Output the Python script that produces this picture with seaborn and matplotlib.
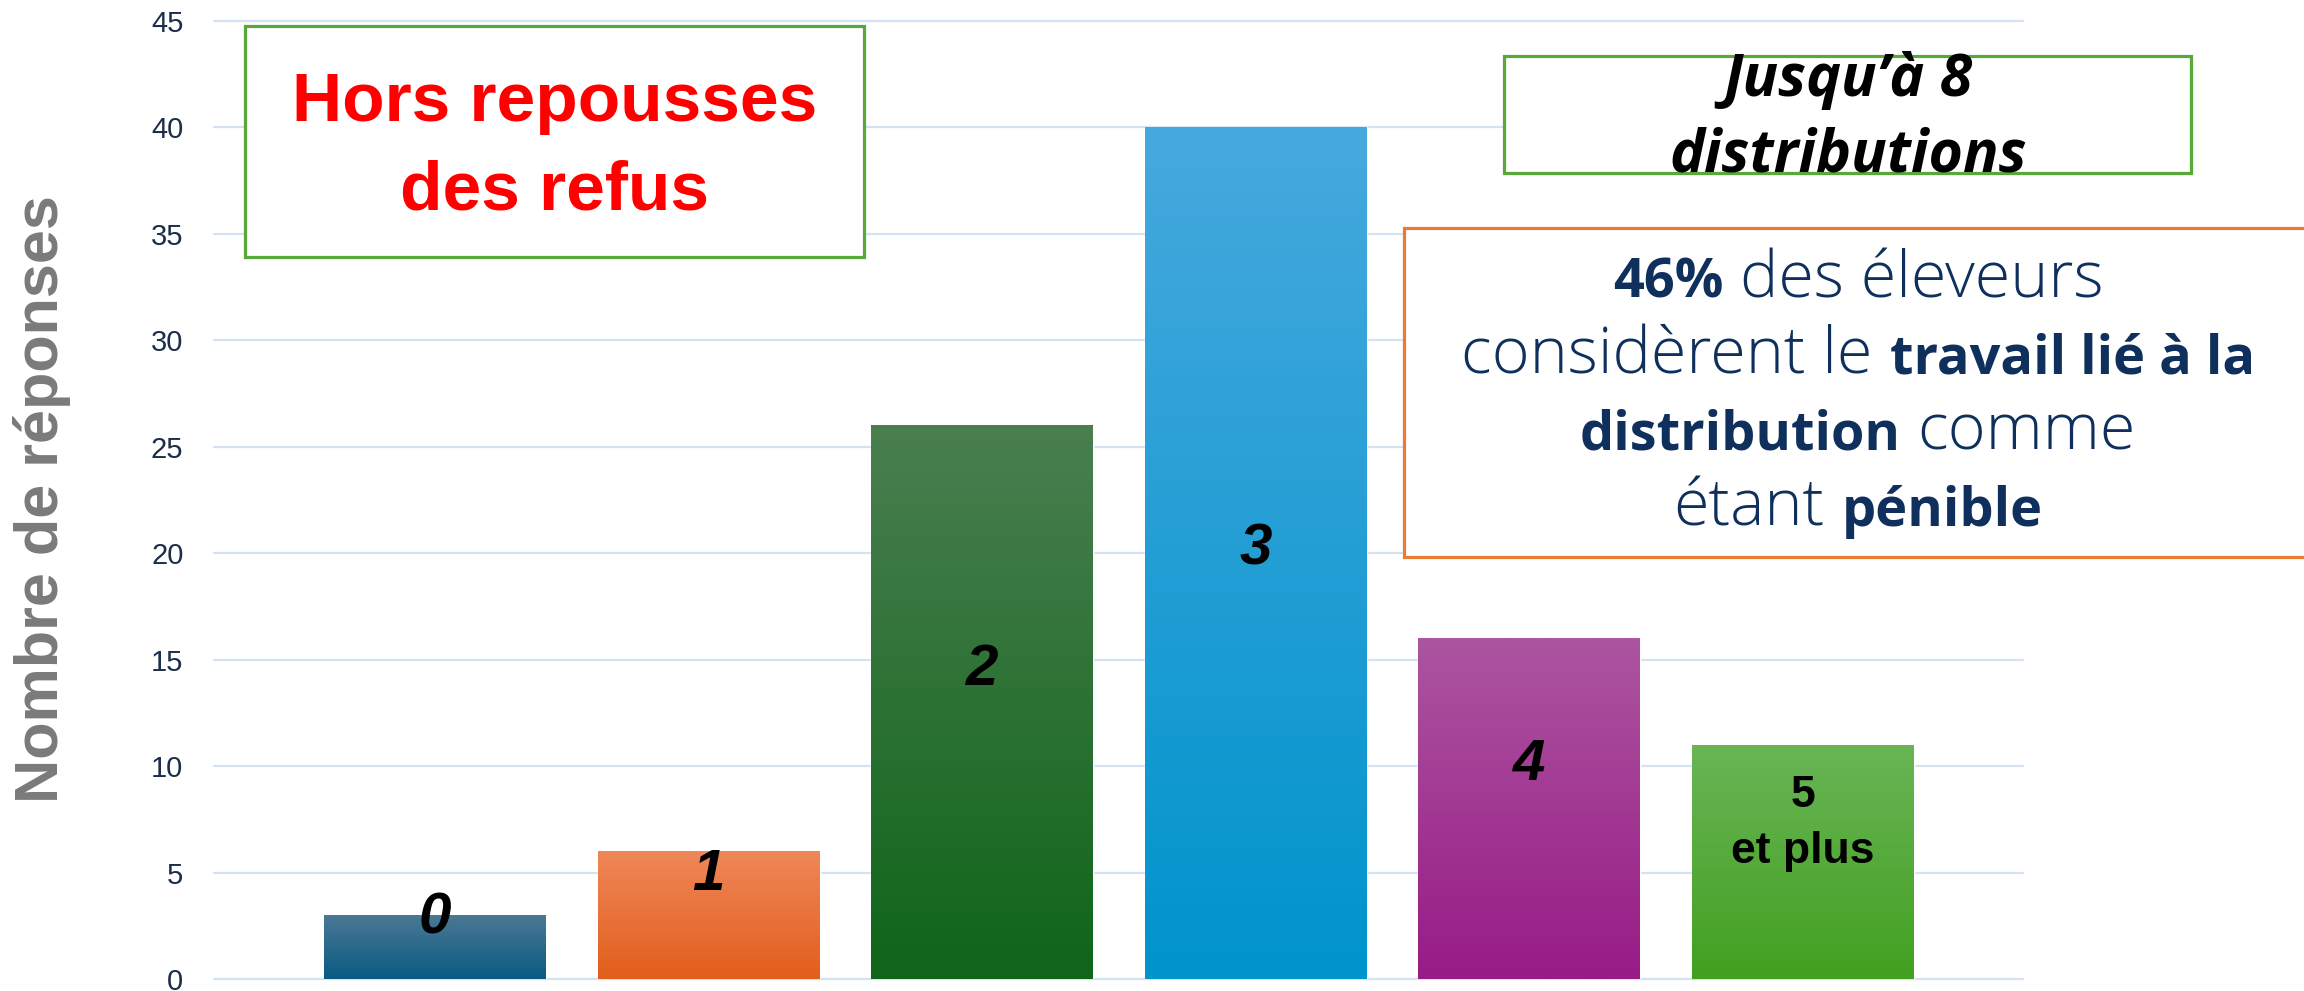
import numpy as np
import matplotlib
matplotlib.use("Agg")
import matplotlib.pyplot as plt
import matplotlib.patches as mpatches
import matplotlib.colors as mcolors
import seaborn as sns
import pandas as pd

# ---- data -------------------------------------------------------------
categories = ["0", "1", "2", "3", "4", "5\net plus"]
responses = [3, 6, 26, 40, 16, 11]
y_ticks = [0, 5, 10, 15, 20, 25, 30, 35, 40, 45]
y_label = "Nombre de réponses"

note_left = ["Hors repousses", "des refus"]
note_top = ["Jusqu’à 8", "distributions"]
note_right = [
    [("46%", "bold"), ("des éleveurs", "light")],
    [("considèrent le", "light"), ("travail lié à la", "bold")],
    [("distribution", "bold"), ("comme", "light")],
    [("étant", "light"), ("pénible", "bold")],
]

# ---- styling ----------------------------------------------------------
bar_top_colors = ["#4b7895", "#ef8759", "#4a7f50", "#46a9de", "#ac55a0", "#69b556"]
bar_bottom_colors = ["#0a5a82", "#e25e1c", "#0f6519", "#0094cc", "#981b86", "#42a020"]
label_italic = [True, True, True, True, True, False]
label_size = [42, 42, 42, 42, 42, 32]
label_baseline = [2.15, 4.2, 13.8, 19.45, 9.35, 8.08]

W, H, DPI = 2304, 991, 100
sns.set_theme(style="white")
plt.rcParams["font.family"] = ["Liberation Sans", "DejaVu Sans"]

fig = plt.figure(figsize=(W / DPI, H / DPI), dpi=DPI)
fig.patch.set_facecolor("white")
ax = fig.add_axes([214 / W, 12 / H, (2023 - 214) / W, (979 - 21) / H])


def fx(px):
    return px / W


def fy(py):
    return 1 - py / H


df = pd.DataFrame({"cat": categories, "n": responses})
sns.barplot(data=df, x="cat", y="n", hue="cat", palette=bar_bottom_colors,
            width=0.811, saturation=1, legend=False, ax=ax, zorder=2)

# vertical gradient fill for every bar
grad = np.linspace(0, 1, 256).reshape(-1, 1)
for patch, c_top, c_bot in zip(ax.patches, bar_top_colors, bar_bottom_colors):
    x0, y0 = patch.get_x(), patch.get_y()
    w, h = patch.get_width(), patch.get_height()
    cmap = mcolors.LinearSegmentedColormap.from_list("bar", [c_bot, c_top])
    im = ax.imshow(grad, cmap=cmap, origin="lower", aspect="auto",
                   extent=(x0, x0 + w, y0, y0 + h), interpolation="bilinear",
                   zorder=2.5)
    im.set_clip_path(patch)

ax.set_xlim(-0.808, 5.804)
ax.set_ylim(0, 45)
ax.set_yticks(y_ticks)
ax.set_xticks([])
ax.set_xlabel("")
ax.yaxis.grid(True, color="#d3e3f3", lw=1.6)
ax.xaxis.grid(False)
ax.set_axisbelow(True)
for line in ax.get_ygridlines():
    line.set_clip_on(False)
for s in ax.spines.values():
    s.set_visible(False)
ax.tick_params(axis="y", length=0, pad=22, labelsize=21, labelcolor="#1c2e4a")

ax.set_ylabel(y_label, fontsize=44, fontweight="bold", color="#7a7a7a")
ax.yaxis.set_label_coords(-0.079, 0.501)

# category names written inside the bars
for i, lab in enumerate(categories):
    for k, line in enumerate(lab.split("\n")):
        ax.annotate(line, xy=(i, label_baseline[i]), xytext=(0, -k * 40.3),
                    textcoords="offset points", ha="center", va="baseline",
                    fontsize=label_size[i], fontweight="bold",
                    fontstyle="italic" if label_italic[i] else "normal",
                    color="black", zorder=5)

# ---- framed notes -----------------------------------------------------
def frame(x0, y0, x1, y1, color, lw):
    fig.add_artist(mpatches.Rectangle((fx(x0), fy(y1)), fx(x1) - fx(x0), (y1 - y0) / H,
                                      transform=fig.transFigure, facecolor="white",
                                      edgecolor=color, lw=lw, zorder=3))


frame(245, 26, 864, 257, "#58a93a", 2.3)
frame(1504, 56, 2191, 173, "#58a93a", 2.3)
frame(1404, 228, 2312, 557, "#ec7a35", 2.3)

for txt, base in zip(note_left, [121, 210]):
    fig.text(fx(555), fy(base), txt, ha="center", va="baseline", fontsize=50,
             fontweight="bold", color="#ff0000", zorder=4)

sans = ["Open Sans", "DejaVu Sans"]
for txt, base in zip(note_top, [96, 172]):
    fig.text(fx(1848), fy(base), txt, ha="center", va="baseline", fontsize=42.5,
             fontweight="bold", fontstyle="italic", family=sans,
             color="black", zorder=4)

renderer = fig.canvas.get_renderer()
navy = "#0f305c"
seg_size = {"bold": 39, "light": 46.5}
seg_weight = {"bold": "bold", "light": 300}
probe1 = fig.text(0, 0, "n n", fontsize=seg_size["light"], fontweight=300, family=sans)
probe2 = fig.text(0, 0, "nn", fontsize=seg_size["light"], fontweight=300, family=sans)
space_w = (probe1.get_window_extent(renderer).width
           - probe2.get_window_extent(renderer).width)
probe1.remove()
probe2.remove()

for segs, base in zip(note_right, [297, 373, 450, 526]):
    items = [fig.text(0, fy(base), s, fontsize=seg_size[kind], fontweight=seg_weight[kind],
                      family=sans, color=navy, ha="left", va="baseline", zorder=4)
             for s, kind in segs]
    widths = [t.get_window_extent(renderer).width for t in items]
    total = sum(widths) + space_w * (len(items) - 1)
    x = 1858 - total / 2
    for t, wdt in zip(items, widths):
        t.set_x(fx(x))
        x += wdt + space_w

fig.savefig("out.png", dpi=DPI, facecolor="white")
